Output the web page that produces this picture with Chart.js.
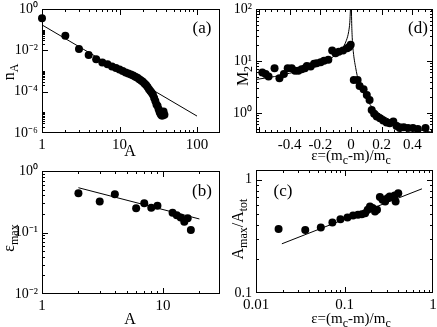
<!DOCTYPE html>
<html>
<head>
<meta charset="utf-8">
<script src="https://cdn.jsdelivr.net/npm/chart.js@4.4.1/dist/chart.umd.min.js"></script>
<style>
  body { margin: 0; background: #fff; }
  #wrap { position: relative; width: 437px; height: 327px; overflow: hidden; font-family: "Liberation Serif", "Times New Roman", serif; color: #000; }
  #wrap canvas { position: absolute; left: 0; top: 0; }
  .t { position: absolute; white-space: nowrap; line-height: 1; font-size: 16px; }
  .t sub { font-size: 12px; vertical-align: -4px; line-height: 0; }
  .c { transform: translate(-50%, -50%); }
  .r { transform: translate(-50%, -50%) rotate(-90deg); }
  .p { font-size: 17px; }
</style>
</head>
<body>
<div id="wrap">
  <canvas id="ca" width="437" height="327"></canvas>
  <canvas id="cb" width="437" height="327"></canvas>
  <canvas id="cd" width="437" height="327"></canvas>
  <canvas id="cc" width="437" height="327"></canvas>

  <div class="t r" style="left:9px;top:72px">n<sub>A</sub></div>
  <div class="t c" style="left:130px;top:151px">A</div>
  <div class="t p c" style="left:202px;top:27px">(a)</div>

  <div class="t r" style="left:9px;top:238px">ε<sub>max</sub></div>
  <div class="t c" style="left:130px;top:319px">A</div>
  <div class="t p c" style="left:202px;top:190px">(b)</div>

  <div class="t r" style="left:243px;top:76px">M<sub>2</sub></div>
  <div class="t c" style="left:351px;top:155px;font-size:15px">ε=(m<sub>c</sub>-m)/m<sub>c</sub></div>
  <div class="t p c" style="left:418px;top:27px">(d)</div>

  <div class="t r" style="left:238px;top:229px">A<sub>max</sub>/A<sub>tot</sub></div>
  <div class="t c" style="left:351px;top:318px;font-size:15px">ε=(m<sub>c</sub>-m)/m<sub>c</sub></div>
  <div class="t p c" style="left:283px;top:190px">(c)</div>
</div>
<script>
// (a) cluster size distribution
const aSize = [1, 2, 3, 4, 5, 6, 7, 8, 9, 10, 11, 12, 13, 14, 15, 16, 17, 18, 19, 20,
  21, 22, 23, 24, 25, 26, 27, 28, 29, 30, 31, 32, 33, 34, 35, 36, 37, 38];
const aDens = [0.355, 0.051, 0.0116, 0.006, 0.0037, 0.0026, 0.0021, 0.00166, 0.00138, 0.00117,
  0.001, 0.00085, 0.00076, 0.00068, 0.0006, 0.00052, 0.00047, 0.0004, 0.00035, 0.0003,
  0.00025, 0.00021, 0.000166, 0.000132, 0.000107, 8.9e-5, 7.1e-5, 5e-5, 3.5e-5, 2.4e-5,
  2e-5, 1.4e-5, 1e-5, 8e-6, 7e-6, 7e-6, 1.1e-5, 7.6e-6];
const aFitSize = [1, 100];
const aFitDens = [0.17, 6.6e-6];

// (b) epsilon max vs A
const bSize = [2, 3, 4, 6, 7, 8, 9, 12, 13, 14, 15, 16, 17];
const bEps = [0.434, 0.32, 0.42, 0.247, 0.3, 0.253, 0.273, 0.21, 0.19, 0.175, 0.15, 0.17, 0.11];
const bFitSize = [2, 20];
const bFitEps = [0.535, 0.166];

// (d) second moment
const dEps = [-0.579, -0.557, -0.538, -0.499, -0.467, -0.438, -0.413, -0.387, -0.365, -0.344,
  -0.322, -0.301, -0.288, -0.263, -0.241, -0.224, -0.198, -0.176, -0.148, -0.123,
  -0.101, -0.08, -0.052, -0.025, -0.012, -0.002,
  0.018, 0.043, 0.056, 0.082, 0.103, 0.121, 0.135, 0.151, 0.168, 0.189,
  0.21, 0.232, 0.253, 0.276, 0.297, 0.318, 0.344, 0.372, 0.404, 0.436, 0.486];
const dM2 = [5.96, 5.6, 5.0, 7.2, 4.65, 5.6, 7.25, 7.2, 6.5, 6.5,
  6.9, 7.2, 8.0, 7.8, 8.8, 9.0, 9.4, 10.1, 10.5, 15.9,
  14.1, 15.1, 15.9, 17.5, 18.5, 20.5,
  4.3, 4.3, 3.3, 2.86, 2.2, 1.78, 1.14, 0.96, 0.85, 0.79,
  0.71, 0.65, 0.63, 0.68, 0.56, 0.51, 0.53, 0.51, 0.51, 0.49, 0.51];
const dLeftEps = [-0.62, -0.5, -0.4, -0.3, -0.2, -0.15, -0.1, -0.06, -0.03, -0.015, -0.008, -0.005, -0.002];
const dLeftM2 = [4.4, 5.0, 5.8, 6.9, 8.8, 10.5, 13, 17, 25, 37, 55, 80, 130];
const dRightEps = [0.002, 0.004, 0.008, 0.015, 0.03, 0.05, 0.08, 0.12, 0.18, 0.25, 0.35, 0.45, 0.535];
const dRightM2 = [130, 60, 28, 15, 7.5, 4.0, 2.4, 1.5, 1.0, 0.75, 0.58, 0.47, 0.42];

// (c) largest cluster fraction
const cEps = [0.018, 0.036, 0.054, 0.073, 0.09, 0.108, 0.125, 0.142, 0.157, 0.171, 0.183, 0.194,
  0.208, 0.221, 0.233, 0.251, 0.269, 0.288, 0.306, 0.324, 0.347, 0.369, 0.378, 0.405];
const cFrac = [0.368, 0.361, 0.378, 0.42, 0.449, 0.464, 0.483, 0.49, 0.497, 0.507, 0.543, 0.58,
  0.562, 0.525, 0.543, 0.703, 0.665, 0.643, 0.688, 0.711, 0.703, 0.726, 0.643, 0.762];
const cFitEps = [0.0196, 0.75];
const cFitFrac = [0.272, 0.832];

// tick labels
const aXTicks = [1, 10, 100], aXLabels = ["1", "10", "100"];
const aYTicks = [1, 1e-2, 1e-4, 1e-6], aYLabels = ["10⁰", "10⁻²", "10⁻⁴", "10⁻⁶"];
const bXTicks = [1, 10], bXLabels = ["1", "10"];
const bYTicks = [1, 0.1, 0.01], bYLabels = ["10⁰", "10⁻¹", "10⁻²"];
const dXTicks = [-0.4, -0.2, 0, 0.2, 0.4], dXLabels = ["-0.4", "-0.2", "0", "0.2", "0.4"];
const dYTicks = [1, 10, 100], dYLabels = ["10⁰", "10¹", "10²"];
const cXTicks = [0.01, 0.1, 1], cXLabels = ["0.01", "0.1", "1"];
const cYTicks = [0.1, 1], cYLabels = ["0.1", "1"];

Chart.defaults.font.family = "'Liberation Serif', serif";
Chart.defaults.font.size = 15;
Chart.defaults.color = "#000";

const pts = (xs, ys) => xs.map((x, i) => ({ x: x, y: ys[i] }));

function logMarks(lo, hi, step) {
  const major = [], minor = [];
  for (let k = lo; k <= hi; k += step) {
    major.push(Math.pow(10, k));
    const top = step > 1 ? 10 : 9;
    for (let m = 2; m <= top; m++) minor.push(m * Math.pow(10, k));
  }
  return { major, minor };
}
function linMarks(lo, hi, maj, min) {
  const major = [], minor = [];
  for (let v = lo; v <= hi + 1e-9; v += min) {
    const r = Math.round(v * 100) / 100;
    if (Math.abs(r / maj - Math.round(r / maj)) < 1e-6) major.push(r); else minor.push(r);
  }
  return { major, minor };
}

// frame with inward ticks on the borders
const frame = {
  id: "frame",
  beforeDatasetsDraw(chart, args, o) {
    const { ctx, chartArea: a } = chart;
    const sx = chart.scales.x, sy = chart.scales.y;
    ctx.save();
    ctx.strokeStyle = "#000";
    ctx.lineWidth = 1;
    ctx.strokeRect(Math.round(a.left) + 0.5, Math.round(a.top) + 0.5,
      Math.round(a.right - a.left) - 1, Math.round(a.bottom - a.top) - 1);
    const inX = (v) => v > sx.min && v < sx.max;
    const inY = (v) => v > sy.min && v < sy.max;
    ctx.beginPath();
    [[o.x.major, 6], [o.x.minor, 3]].forEach(([vals, len]) => {
      vals.filter(inX).forEach((v) => {
        const px = Math.round(sx.getPixelForValue(v)) + 0.5;
        ctx.moveTo(px, a.bottom); ctx.lineTo(px, a.bottom - len);
        if (o.top) { ctx.moveTo(px, a.top); ctx.lineTo(px, a.top + len); }
      });
    });
    [[o.y.major, 6], [o.y.minor, 3]].forEach(([vals, len]) => {
      vals.filter(inY).forEach((v) => {
        const py = Math.round(sy.getPixelForValue(v)) + 0.5;
        ctx.moveTo(a.left, py); ctx.lineTo(a.left + len, py);
        if (o.right) { ctx.moveTo(a.right, py); ctx.lineTo(a.right - len, py); }
      });
    });
    ctx.stroke();
    ctx.restore();
  },
};

const Y_W = 40, X_H = 24;
function axis(type, min, max, ticks, labels, isX) {
  return {
    type: type,
    min: min,
    max: max,
    grid: { display: false, drawTicks: false },
    border: { display: false },
    afterBuildTicks: (s) => { s.ticks = ticks.map((v) => ({ value: v })); },
    afterFit: (s) => {
      if (isX) s.height = X_H; else s.width = Y_W;
      s.paddingLeft = s.paddingRight = s.paddingTop = s.paddingBottom = 0;
    },
    ticks: {
      autoSkip: false,
      maxRotation: 0,
      padding: isX ? 3 : 4,
      font: { size: isX ? 15 : 14 },
      callback: (v, i) => labels[i],
    },
  };
}

function panel(id, box, scales, datasets, marks) {
  return new Chart(document.getElementById(id), {
    type: "scatter",
    data: { datasets: datasets },
    options: {
      responsive: false,
      animation: false,
      events: [],
      layout: {
        padding: { left: box[0] - Y_W, top: box[1], right: 437 - box[2], bottom: 327 - box[3] - X_H },
      },
      scales: scales,
      plugins: { legend: { display: false }, tooltip: { enabled: false }, frame: marks },
    },
    plugins: [frame],
  });
}

const dots = (data) => ({
  data: data, showLine: false, pointRadius: 4, pointBackgroundColor: "#000",
  pointBorderWidth: 0, clip: false,
});
const line = (data, smooth) => ({
  data: data, showLine: true, pointRadius: 0, borderColor: "#000", borderWidth: 1,
  tension: smooth ? 0.4 : 0, cubicInterpolationMode: smooth ? "monotone" : "default",
});

panel("ca", [42, 9, 220, 133], {
  x: axis("logarithmic", 1, 198, aXTicks, aXLabels, true),
  y: axis("logarithmic", 1e-6, 1, aYTicks, aYLabels, false),
}, [line(pts(aFitSize, aFitDens)), dots(pts(aSize, aDens))],
{ x: logMarks(0, 2, 1), y: logMarks(-6, 0, 2), top: true, right: false });

panel("cb", [42, 171, 220, 294], {
  x: axis("logarithmic", 1, 29.6, bXTicks, bXLabels, true),
  y: axis("logarithmic", 0.01, 1, bYTicks, bYLabels, false),
}, [line(pts(bFitSize, bFitEps)), dots(pts(bSize, bEps))],
{ x: logMarks(0, 1, 1), y: logMarks(-2, 0, 1), top: true, right: false });

panel("cd", [256, 9, 435, 133], {
  x: axis("linear", -0.62, 0.535, dXTicks, dXLabels, true),
  y: axis("logarithmic", 0.41, 100, dYTicks, dYLabels, false),
}, [line(pts(dLeftEps, dLeftM2), true), line(pts(dRightEps, dRightM2), true), dots(pts(dEps, dM2))],
{ x: linMarks(-0.6, 0.52, 0.2, 0.04), y: logMarks(-1, 2, 1), top: true, right: true });

panel("cc", [256, 170, 436, 293], {
  x: axis("logarithmic", 0.01, 1, cXTicks, cXLabels, true),
  y: axis("logarithmic", 0.1, 1.22, cYTicks, cYLabels, false),
}, [line(pts(cFitEps, cFitFrac)), dots(pts(cEps, cFrac))],
{ x: logMarks(-2, 0, 1), y: logMarks(-1, 0, 1), top: true, right: true });
</script>
</body>
</html>
